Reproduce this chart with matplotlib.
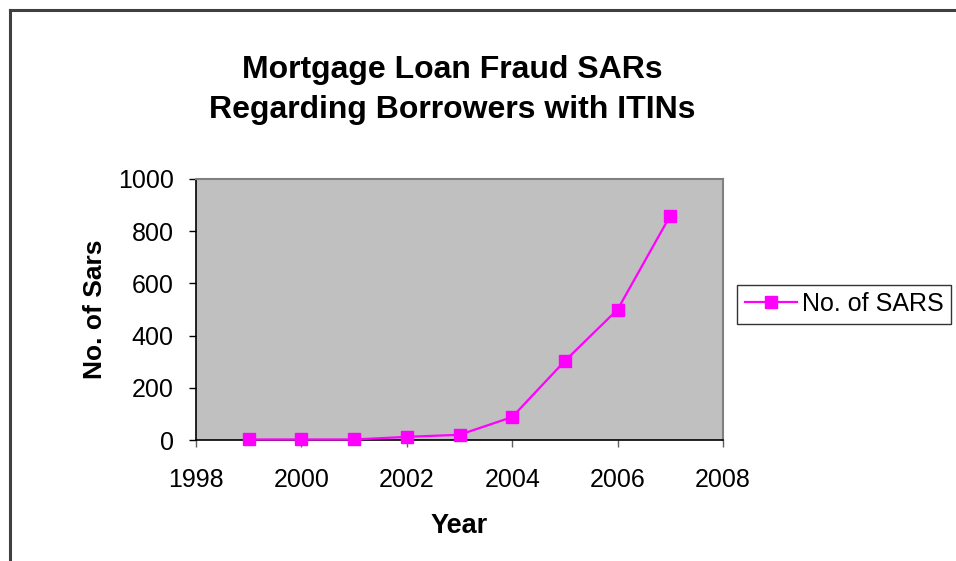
import matplotlib
matplotlib.use("Agg")
import matplotlib.pyplot as plt

plt.rcParams['font.family'] = ['Liberation Sans', 'DejaVu Sans']

years = [1999, 2000, 2001, 2002, 2003, 2004, 2005, 2006, 2007]
sars = [2, 2, 2, 12, 20, 88, 303, 500, 860]
x_ticks = [1998, 2000, 2002, 2004, 2006, 2008]
y_ticks = [0, 200, 400, 600, 800, 1000]

W, H = 956, 561
fig = plt.figure(figsize=(W / 100, H / 100), dpi=100)

# outer chart border (left and top visible)
fig.add_artist(plt.Line2D([9.5 / W, 9.5 / W], [0, 1 - 10 / H], color='#404040', lw=2.2,
                          transform=fig.transFigure))
fig.add_artist(plt.Line2D([9.5 / W, 1], [1 - 10 / H, 1 - 10 / H], color='#404040', lw=2.2,
                          transform=fig.transFigure))

left, right, top, bottom = 196, 723, 179, 440
ax = fig.add_axes([left / W, 1 - bottom / H, (right - left) / W, (bottom - top) / H])
ax.set_facecolor('#C0C0C0')
ax.plot(years, sars, color='#FF00FF', lw=1.6, marker='s', markersize=8,
        markerfacecolor='#FF00FF', markeredgecolor='#FF00FF', label='No. of SARS',
        clip_on=False, zorder=3)
ax.set_xlim(1998, 2008)
ax.set_ylim(0, 1000)
ax.set_xticks(x_ticks)
ax.set_yticks(y_ticks)
ax.tick_params(axis='both', labelsize=18, direction='out', length=5, width=1, color='black')
ax.tick_params(axis='x', pad=15, color='#606060')
ax.tick_params(axis='y', pad=11)
for s in ['top', 'right']:
    ax.spines[s].set_color('#808080')
    ax.spines[s].set_linewidth(1.5)
for s in ['left', 'bottom']:
    ax.spines[s].set_color('black')
    ax.spines[s].set_linewidth(1.2)

ax.set_xlabel('Year', fontsize=19.5, fontweight='bold', labelpad=15)
ax.set_ylabel('No. of Sars', fontsize=19, fontweight='bold', labelpad=8)

fig.text(452 / W, 1 - 90 / H, 'Mortgage Loan Fraud SARs\nRegarding Borrowers with ITINs',
         ha='center', va='center', fontsize=23, fontweight='bold', linespacing=1.45)

leg = ax.legend(loc='center left', bbox_to_anchor=((737 - left) / (right - left), (bottom - 304) / (bottom - top)),
                fontsize=18, frameon=True, fancybox=False, edgecolor='black', borderpad=0.3,
                handlelength=2.1, handletextpad=0.2, borderaxespad=0)
leg.get_frame().set_linewidth(1.0)

fig.savefig('out.png', dpi=100)
